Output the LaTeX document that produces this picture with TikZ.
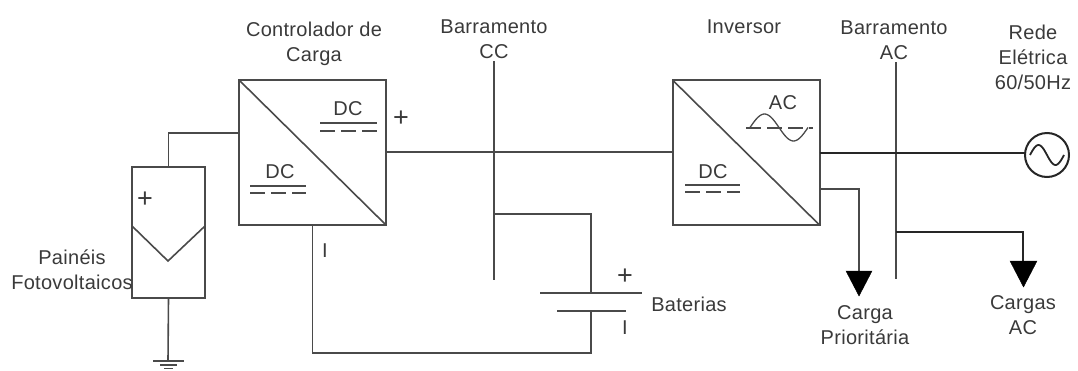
\documentclass[tikz,border=0pt]{standalone}
\usepackage{fontspec}
\setmainfont{Liberation Sans}[LetterSpace=1.5]
\usetikzlibrary{calc}
\definecolor{ln}{HTML}{4A4A4A}
\definecolor{tx}{HTML}{3A3A3A}
\tikzset{
  x=1pt,y=-1pt,
  wire/.style={draw=ln,line width=1.6pt},
  dark/.style={draw=black!85,line width=2pt},
  blockbox/.style={draw=ln,line width=2pt,fill=white,minimum width=147pt,minimum height=145pt,inner sep=0pt,outer sep=0pt},
  panelbox/.style={draw=ln,line width=2pt,fill=white,minimum width=73pt,minimum height=131pt,inner sep=0pt,outer sep=0pt},
  lab/.style={text=tx,font=\fontsize{20}{25}\selectfont,align=center,inner sep=0pt},
  dclab/.style={text=tx,font=\fontsize{20}{22}\selectfont,inner sep=0pt},
  signlab/.style={text=tx,font=\fontsize{27}{27}\selectfont,inner sep=0pt},
  loadtip/.style={fill=black,draw=black,line join=miter},
  sourcec/.style={circle,draw=black!85,line width=2pt,minimum size=44pt,inner sep=0pt,outer sep=0pt,fill=white}
}
\begin{document}
\begin{tikzpicture}
\useasboundingbox (0,0) rectangle (1078,370);
% blocks
\node[blockbox] (ctrl) at (312.5,152.5) {};
\node[blockbox] (inv) at (746,152.5) {};
\node[panelbox] (pv) at (168.5,232.5) {};
\node[sourcec] (grid) at (1047,155) {};
% coordinates
\coordinate (busCt) at (494,61);
\coordinate (busCb) at (494,280);
\coordinate (busAt) at (896,62);
\coordinate (busAb) at (896,279);
\coordinate (batTop) at (591,293);
\coordinate (batBot) at (591,311);
\coordinate (gnd) at (168,361);
% buses
\draw[wire] (busCt) -- (busCb);
\draw[wire] (busAt) -- (busAb);
% converter diagonals
\draw[wire] (ctrl.north west) -- (ctrl.south east);
\draw[wire] (inv.north west) -- (inv.south east);
% PV
\draw[wire] (pv.north) |- (ctrl.west |- 0,133);
\draw[wire] (pv.west |- 0,226) -- (168,261) -- (pv.east |- 0,226);
\draw[wire] (pv.south) -- (gnd);
\draw[wire] (153,361) -- (184,361);
\draw[wire,line width=1.3pt] (160,365) -- (177,365);
\draw[wire,line width=1.2pt] (164,368.5) -- (173,368.5);
% DC link
\draw[wire] (ctrl.east |- 0,152) -- (inv.west |- 0,152);
% battery
\draw[wire] (busCt |- 0,214) -| (batTop);
\draw[wire] (540,293) -- (642,293);
\draw[wire] (557,311) -- (626,311);
\draw[wire] (ctrl.south) |- (591,353) -- (batBot);
% AC side
\draw[dark] (inv.east |- 0,153) -- (grid.west |- 0,153);
\draw[dark,line width=1.8pt] plot[domain=-1:1,samples=31,smooth] ({1047+\x*17},{155+10*sin(180*\x)});
\draw[wire] (inv.east |- 0,189) -| (859,272);
\fill[loadtip] (846,271) -- (872,271) -- (859,296) -- cycle;
\draw[wire,draw=black!85] (busAt |- 0,232) -| (1023,262);
\fill[loadtip] (1010,261) -- (1037,261) -- (1023.5,287) -- cycle;
% DC / AC symbols
\node[dclab] (dc1) at (348,109) {DC};
\draw[wire] (320,123) -- (377,123);
\draw[wire,dash pattern=on 15pt off 6pt] (320,131) -- (377,131);
\node[dclab] (dc2) at (280,172) {DC};
\draw[wire] (250,186) -- (306,186);
\draw[wire,dash pattern=on 15pt off 6pt] (250,193) -- (306,193);
\node[dclab] (dc3) at (713,172) {DC};
\draw[wire] (685,185) -- (740,185);
\draw[wire,dash pattern=on 15pt off 6pt] (685,192) -- (740,192);
\node[dclab] (ac1) at (783,103) {AC};
\draw[wire,dash pattern=on 15pt off 6pt] (746,128) -- (813,128);
\draw[wire,line width=1.3pt] plot[domain=-1:1,samples=31,smooth] ({779+\x*29},{127.5+13.5*sin(180*\x)});
% signs
\node[signlab] (p1) at (401,119) {+};
\node[signlab] (p2) at (145,200) {+};
\node[signlab] (p3) at (625,277) {+};
\node[lab] (m1) at (325,251) {I};
\node[lab] (m2) at (625,328) {I};
% labels
\node[lab] (t1) at (314,44) {Controlador de\\Carga};
\node[lab] (t2) at (494,39) {Barramento\\CC};
\node[lab] (t3) at (744,27) {Inversor};
\node[lab] (t4) at (894,40) {Barramento\\AC};
\node[lab] (t5) at (1033,57) {Rede\\Elétrica\\60/50Hz};
\node[lab] (t6) at (72,270) {Painéis\\Fotovoltaicos};
\node[lab] (t7) at (689,304) {Baterias};
\node[lab] (t8) at (865,325) {Carga\\Prioritária};
\node[lab] (t9) at (1023,315) {Cargas\\AC};
\end{tikzpicture}
\end{document}
